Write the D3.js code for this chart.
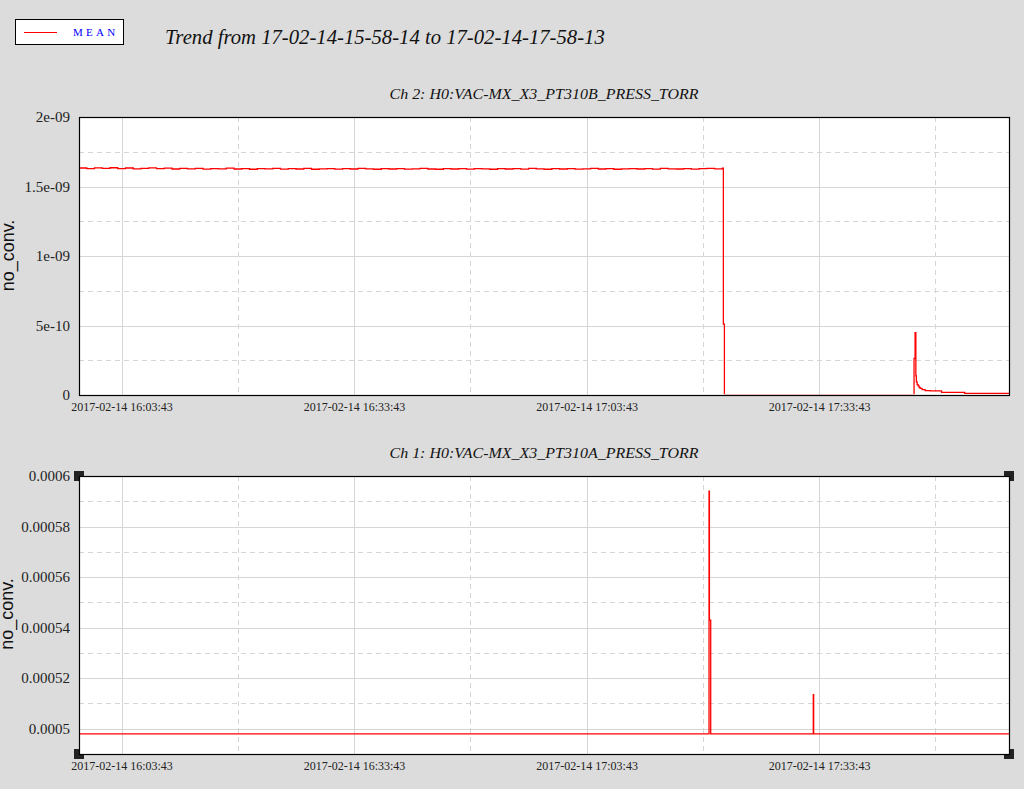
<!DOCTYPE html>
<html>
<head>
<meta charset="utf-8">
<script src="https://cdn.jsdelivr.net/npm/d3@7"></script>
<style>
  html, body { margin: 0; padding: 0; background: #dcdcdc; }
  svg { display: block; }
  .serif { font-family: "Liberation Serif", "Times New Roman", Times, serif; }
  .sans { font-family: "Liberation Sans", Arial, Helvetica, sans-serif; }
</style>
</head>
<body>
<svg id="chart" width="1024" height="789"></svg>
<script>
// ---------------- DATA ----------------
const mainTitle = "Trend from 17-02-14-15-58-14 to 17-02-14-17-58-13";
const legendLabel = "MEAN";
const yAxisLabel = "no_conv.";
const ch2Title = "Ch 2: H0:VAC-MX_X3_PT310B_PRESS_TORR";
const ch1Title = "Ch 1: H0:VAC-MX_X3_PT310A_PRESS_TORR";

const xDomain = ["2017-02-14 15:58:14", "2017-02-14 17:58:13"];
const xTickLabels = ["2017-02-14 16:03:43", "2017-02-14 16:33:43", "2017-02-14 17:03:43", "2017-02-14 17:33:43"];
const xMinorTicks = ["2017-02-14 16:18:43", "2017-02-14 16:48:43", "2017-02-14 17:18:43", "2017-02-14 17:48:43"];

// Ch 2 (top) y axis
const ch2Domain = [0, 2e-9];
const ch2Ticks = [0, 5e-10, 1e-9, 1.5e-9, 2e-9];
const ch2TickLabels = ["0", "5e-10", "1e-09", "1.5e-09", "2e-09"];
const ch2MinorTicks = [2.5e-10, 7.5e-10, 1.25e-9, 1.75e-9];

// Ch 2 flat part: one reading per minute from 15:58:14 (units of 1e-9)
const ch2FlatStart = "2017-02-14 15:58:14";
const ch2FlatStepSec = 60;
const ch2FlatValues = [
  1.633, 1.628, 1.634, 1.630, 1.635, 1.629, 1.633, 1.627, 1.631, 1.634,
  1.628, 1.632, 1.626, 1.630, 1.627, 1.631, 1.625, 1.629, 1.627, 1.632,
  1.626, 1.628, 1.624, 1.629, 1.627, 1.631, 1.625, 1.628, 1.626, 1.630,
  1.624, 1.627, 1.629, 1.625, 1.628, 1.626, 1.631, 1.627, 1.624, 1.628,
  1.626, 1.629, 1.625, 1.627, 1.630, 1.626, 1.624, 1.628, 1.626, 1.629,
  1.625, 1.628, 1.627, 1.624, 1.629, 1.626, 1.628, 1.625, 1.630, 1.627,
  1.624, 1.628, 1.626, 1.629, 1.625, 1.627, 1.630, 1.626, 1.628, 1.624,
  1.627, 1.629, 1.626, 1.628, 1.625, 1.630, 1.627, 1.626, 1.629, 1.625,
  1.628, 1.631, 1.627, 1.632
];
// Ch 2 drop and recovery
const ch2EventTimes = [
  "2017-02-14 17:21:22", "2017-02-14 17:21:30", "2017-02-14 17:45:58", "2017-02-14 17:46:06",
  "2017-02-14 17:46:12", "2017-02-14 17:46:16", "2017-02-14 17:46:22", "2017-02-14 17:46:30",
  "2017-02-14 17:46:37", "2017-02-14 17:46:45", "2017-02-14 17:47:00", "2017-02-14 17:47:24",
  "2017-02-14 17:48:03", "2017-02-14 17:49:31", "2017-02-14 17:52:30", "2017-02-14 17:58:13"
];
const ch2EventValues = [
  5.1e-10, 0, 2.64e-10, 4.48e-10, 1.37e-10, 0.94e-10, 0.74e-10, 0.65e-10,
  0.55e-10, 0.48e-10, 0.38e-10, 0.31e-10, 0.29e-10, 0.19e-10, 0.12e-10, 0.12e-10
];

// Ch 1 (bottom)
const ch1Domain = [0.00049, 0.0006];
const ch1Ticks = [0.0005, 0.00052, 0.00054, 0.00056, 0.00058, 0.0006];
const ch1TickLabels = ["0.0005", "0.00052", "0.00054", "0.00056", "0.00058", "0.0006"];
const ch1MinorTicks = [0.00051, 0.00053, 0.00055, 0.00057, 0.00059];
const ch1Times = [
  "2017-02-14 15:58:14", "2017-02-14 17:19:31", "2017-02-14 17:19:34", "2017-02-14 17:19:44",
  "2017-02-14 17:32:58", "2017-02-14 17:33:01", "2017-02-14 17:58:13"
];
const ch1Values = [0.000498, 0.000594, 0.000543, 0.000498, 0.0005135, 0.000498, 0.000498];

// ---------------- DRAW ----------------
const parse = d3.timeParse("%Y-%m-%d %H:%M:%S");
const svg = d3.select("#chart");
const W = 1024, H = 789;
svg.append("rect").attr("width", W).attr("height", H).attr("fill", "#dcdcdc");

const x = d3.scaleTime().domain(xDomain.map(parse)).range([79, 1009]);

// Build series
const flatStart = parse(ch2FlatStart);
const ch2Data = ch2FlatValues.map((v, i) => ({ t: new Date(flatStart.getTime() + i * ch2FlatStepSec * 1000), v: v * 1e-9 }))
  .concat(ch2EventTimes.map((t, i) => ({ t: parse(t), v: ch2EventValues[i] })));
const ch1Data = ch1Times.map((t, i) => ({ t: parse(t), v: ch1Values[i] }));

function panel(cfg) {
  const { top, bottom, domain, ticks, tickLabels, minor, data, title, titleY, labelX, labelY, handles, id } = cfg;
  const y = d3.scaleLinear().domain(domain).range([bottom, top]);
  const g = svg.append("g");
  const [x0, x1] = x.range();

  g.append("rect").attr("x", x0).attr("y", top).attr("width", x1 - x0).attr("height", bottom - top).attr("fill", "#fff");

  // grid
  const gridColor = "#d6d6d6";
  g.selectAll(".ymin").data(minor).join("line")
    .attr("x1", x0).attr("x2", x1)
    .attr("y1", d => Math.round(y(d)) + 0.5).attr("y2", d => Math.round(y(d)) + 0.5)
    .attr("stroke", gridColor).attr("stroke-dasharray", "5,4");
  g.selectAll(".xmin").data(xMinorTicks.map(parse)).join("line")
    .attr("x1", d => Math.round(x(d)) + 0.5).attr("x2", d => Math.round(x(d)) + 0.5)
    .attr("y1", top).attr("y2", bottom)
    .attr("stroke", gridColor).attr("stroke-dasharray", "5,4");
  g.selectAll(".ymaj").data(ticks).join("line")
    .attr("x1", x0).attr("x2", x1)
    .attr("y1", d => Math.round(y(d)) + 0.5).attr("y2", d => Math.round(y(d)) + 0.5)
    .attr("stroke", gridColor);
  g.selectAll(".xmaj").data(xTickLabels.map(parse)).join("line")
    .attr("x1", d => Math.round(x(d)) + 0.5).attr("x2", d => Math.round(x(d)) + 0.5)
    .attr("y1", top).attr("y2", bottom)
    .attr("stroke", gridColor);

  // clip + line
  svg.append("clipPath").attr("id", id).append("rect")
    .attr("x", x0).attr("y", top).attr("width", x1 - x0).attr("height", bottom - top - 0.7);
  const line = d3.line().x(d => x(d.t)).y(d => y(d.v)).curve(d3.curveStepAfter);
  g.append("path").datum(data).attr("d", line)
    .attr("fill", "none").attr("stroke", "#ff0000").attr("stroke-width", 1.3)
    .attr("clip-path", `url(#${id})`);

  // axes (labels only)
  const yAxis = d3.axisLeft(y).tickValues(ticks).tickSize(0).tickPadding(9)
    .tickFormat((d, i) => tickLabels[i]);
  const ya = g.append("g").attr("transform", `translate(${x0},0)`).call(yAxis);
  ya.attr("font-family", null);
  ya.select(".domain").remove();
  ya.selectAll("text").attr("class", "serif").attr("font-size", 15).attr("fill", "#222");

  const xAxis = d3.axisBottom(x).tickValues(xTickLabels.map(parse)).tickSize(0).tickPadding(7)
    .tickFormat((d, i) => xTickLabels[i]);
  const xa = g.append("g").attr("transform", `translate(0,${bottom})`).call(xAxis);
  xa.attr("font-family", null);
  xa.select(".domain").remove();
  xa.selectAll("text").attr("class", "serif").attr("font-size", 12).attr("fill", "#222");

  // handles
  if (handles) {
    const corners = [[x0, top, 1, 1], [x1, top, -1, 1], [x0, bottom, 1, -1], [x1, bottom, -1, -1]];
    corners.forEach(([cx, cy, sx, sy]) => {
      g.append("rect").attr("x", cx - 5).attr("y", cy - 5).attr("width", 10).attr("height", 10).attr("fill", "#222");
      g.append("rect")
        .attr("x", sx > 0 ? cx : cx - 5).attr("y", sy > 0 ? cy : cy - 5)
        .attr("width", 5).attr("height", 5).attr("fill", "#fff");
    });
  }

  // frame
  g.append("rect").attr("x", x0 + 0.5).attr("y", top + 0.5).attr("width", x1 - x0).attr("height", bottom - top)
    .attr("fill", "none").attr("stroke", "#000").attr("stroke-width", 1.2);

  // title
  g.append("text").attr("x", (x0 + x1) / 2).attr("y", titleY).attr("text-anchor", "middle")
    .attr("class", "serif").attr("font-style", "italic").attr("font-size", 15).attr("fill", "#111")
    .attr("textLength", 309).attr("lengthAdjust", "spacingAndGlyphs")
    .text(title);

  // y label
  g.append("text").attr("transform", `translate(${labelX},${labelY}) rotate(-90)`)
    .attr("text-anchor", "middle").attr("class", "sans").attr("font-size", 18).attr("fill", "#111")
    .text(yAxisLabel);
}

panel({ id: "clipTop", top: 117, bottom: 395, domain: ch2Domain, ticks: ch2Ticks, tickLabels: ch2TickLabels,
  minor: ch2MinorTicks, data: ch2Data, title: ch2Title, titleY: 98.5, labelX: 13.5, labelY: 255.5, handles: false });
panel({ id: "clipBot", top: 476, bottom: 754, domain: ch1Domain, ticks: ch1Ticks, tickLabels: ch1TickLabels,
  minor: ch1MinorTicks, data: ch1Data, title: ch1Title, titleY: 458, labelX: 12.5, labelY: 614, handles: true });

// legend
const lg = svg.append("g");
lg.append("rect").attr("x", 15.5).attr("y", 19.5).attr("width", 108).attr("height", 25)
  .attr("fill", "#fff").attr("stroke", "#000");
lg.append("line").attr("x1", 24).attr("x2", 57).attr("y1", 32.5).attr("y2", 32.5)
  .attr("stroke", "#ff0000").attr("stroke-width", 1);
lg.append("text").attr("x", 73).attr("y", 36).attr("class", "serif").attr("font-size", 11)
  .attr("letter-spacing", "3.3px").attr("fill", "#0000ff").text(legendLabel);

// main title
svg.append("text").attr("x", 165).attr("y", 44).attr("class", "serif").attr("font-style", "italic")
  .attr("font-size", 20.7).attr("fill", "#111").text(mainTitle);
</script>
</body>
</html>
